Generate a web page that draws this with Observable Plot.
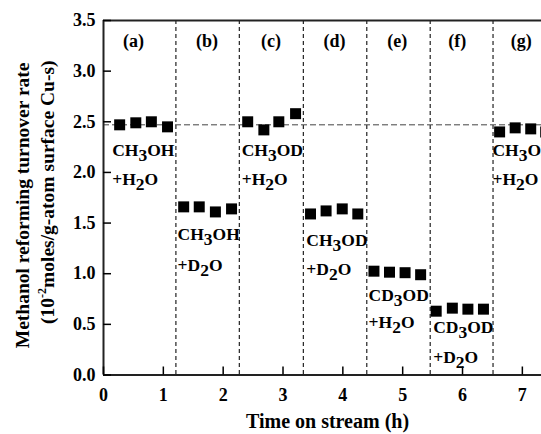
<!DOCTYPE html>
<html><head><meta charset="utf-8">
<script src="https://cdn.jsdelivr.net/npm/d3@7"></script>
<script src="https://cdn.jsdelivr.net/npm/@observablehq/plot@0.6"></script>
<style>body{margin:0;background:#fff}</style>
</head><body><div id="chart"></div>
<script>
const sampleTimes = [0.27, 0.54, 0.80, 1.07, 1.34, 1.60, 1.87, 2.14, 2.41, 2.68, 2.93, 3.21, 3.46, 3.72, 3.99, 4.25, 4.52, 4.78, 5.04, 5.30, 5.56, 5.83, 6.09, 6.35, 6.62, 6.88, 7.14, 7.39];
const turnoverRates = [2.47, 2.49, 2.50, 2.45, 1.66, 1.66, 1.61, 1.64, 2.50, 2.42, 2.50, 2.58, 1.59, 1.62, 1.64, 1.59, 1.025, 1.015, 1.01, 0.99, 0.63, 0.66, 0.65, 0.65, 2.40, 2.44, 2.43, 2.40];
const switchTimes = [1.21, 2.27, 3.34, 4.40, 5.46, 6.51];
const referenceRate = 2.47;
const panelLetters = ["(a)", "(b)", "(c)", "(d)", "(e)", "(f)", "(g)"];
const panelLetterX = [0.50, 1.73, 2.80, 3.86, 4.91, 5.91, 6.98];
const panelLetterY = 3.30;
const methanolLabels = ["CH3OH", "CH3OH", "CH3OD", "CH3OD", "CD3OD", "CD3OD", "CH3OH"];
const waterLabels = ["+H2O", "+D2O", "+H2O", "+D2O", "+H2O", "+D2O", "+H2O"];
const labelX = [0.145, 1.237, 2.31, 3.39, 4.43, 5.51, 6.50];
const methanolLabelY = [2.166, 1.328, 2.166, 1.278, 0.726, 0.41, 2.166];
const waterLabelY = [1.88, 1.03, 1.88, 0.99, 0.46, 0.12, 1.88];
const xTicks = [0, 1, 2, 3, 4, 5, 6, 7];
const yTicks = [0, 0.5, 1, 1.5, 2, 2.5, 3, 3.5];
const xTitle = "Time on stream (h)";
const yTitle1 = "Methanol reforming turnover rate";
const yTitle2Parts = ["(10", "-2", "moles/g-atom surface Cu-s)"];

const points = sampleTimes.map((t, i) => ({t, rate: turnoverRates[i]}));
const panels = panelLetters.map((p, i) => ({p, x: panelLetterX[i], y: panelLetterY}));
const reactants = methanolLabels.map((m, i) => ({text: m, x: labelX[i], y: methanolLabelY[i]}))
  .concat(waterLabels.map((w, i) => ({text: w, x: labelX[i], y: waterLabelY[i]})));

const font = "'Liberation Serif', 'Times New Roman', serif";
const svg = Plot.plot({
  width: 541,
  height: 434,
  marginLeft: 103,
  marginRight: 0,
  marginTop: 20,
  marginBottom: 59.5,
  x: {domain: [0, 7.32]},
  y: {domain: [0, 3.5]},
  style: {fontFamily: font, fontWeight: "bold", fontSize: "18px", background: "white", color: "black"},
  marks: [
    Plot.ruleX(switchTimes, {stroke: "#222", strokeWidth: 1.2, strokeDasharray: "4,3"}),
    Plot.ruleY([referenceRate], {stroke: "#444", strokeWidth: 1, strokeDasharray: "6,3"}),
    Plot.ruleY([0, 3.5], {stroke: "#222", strokeWidth: 2}),
    Plot.ruleX([0], {stroke: "#222", strokeWidth: 2}),
    Plot.axisX(xTicks, {tickSize: -8, tickPadding: 21.5, fontSize: 18, fontWeight: "bold", strokeWidth: 1.5, tickFormat: d => String(d), label: null}),
    Plot.axisY(yTicks, {tickSize: -8, tickPadding: 16, fontSize: 18, fontWeight: "bold", strokeWidth: 1.5, tickFormat: d3.format(".1f"), label: null}),
    Plot.dot(points, {x: "t", y: "rate", symbol: "square", r: 6.2, fill: "black", stroke: "none"}),
    Plot.text(panels, {x: "x", y: "y", text: "p", fontSize: 18, fontWeight: "bold"}),
    Plot.text(reactants, {x: "x", y: "y", text: "text", textAnchor: "start", lineAnchor: "bottom", fontSize: 17.5, fontWeight: "bold", ariaDescription: "chem"}),
    Plot.text([xTitle], {text: d => d, frameAnchor: "bottom", dx: 5, dy: 52.5, lineAnchor: "bottom", fontSize: 20, fontWeight: "bold"}),
    Plot.text([yTitle1], {text: d => d, frameAnchor: "top-left", dx: -81, dy: 42, rotate: -90, textAnchor: "end", lineAnchor: "middle", fontSize: 19.5, fontWeight: "bold"}),
    Plot.text([yTitle2Parts.join("")], {text: d => d, frameAnchor: "top-left", dx: -56, dy: 40, rotate: -90, textAnchor: "end", lineAnchor: "middle", fontSize: 19.5, fontWeight: "bold", ariaDescription: "ytitle2"})
  ]
});

// subscripts in chemical formulas
d3.select(svg).selectAll("g[aria-description=chem] text").each(function() {
  const s = this.textContent;
  const sel = d3.select(this);
  sel.text(null);
  const parts = s.split(/(\d+)/).filter(p => p.length);
  let lowered = false;
  parts.forEach(p => {
    const isDigit = /^\d+$/.test(p);
    const t = sel.append("tspan").text(p);
    if (isDigit && !lowered) { t.attr("dy", 5); lowered = true; }
    else if (!isDigit && lowered) { t.attr("dy", -5); lowered = false; }
  });
});
// superscript in y title
d3.select(svg).selectAll("g[aria-description=ytitle2] text").each(function() {
  const sel = d3.select(this);
  sel.text(null);
  sel.append("tspan").text(yTitle2Parts[0]);
  sel.append("tspan").text(yTitle2Parts[1]).attr("font-size", 12).attr("dy", -8);
  sel.append("tspan").text(yTitle2Parts[2]).attr("dy", 8);
});

document.getElementById("chart").appendChild(svg);
</script>
</body></html>
